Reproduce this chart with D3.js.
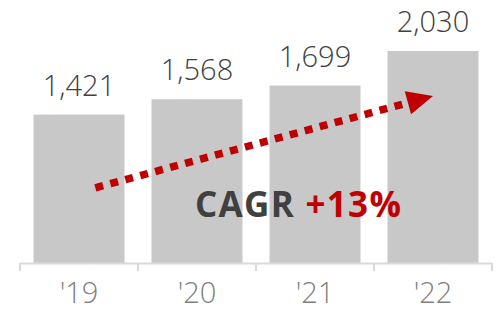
<!DOCTYPE html>
<html><head><meta charset="utf-8">
<script src="https://cdn.jsdelivr.net/npm/d3@7"></script>
<style>html,body{margin:0;padding:0;background:#fff;}svg{display:block;}</style>
</head><body>
<script>
const categories = ["'19", "'20", "'21", "'22"];
const values = [1421, 1568, 1699, 2030];
const valueLabels = ["1,421", "1,568", "1,699", "2,030"];
const cagrLabel = ["CAGR", "+13%"];
// arrow annotation anchored in data space: [category, fraction across band, value]
const arrowFrom = ["'19", 0.68, 720];
const arrowTo = ["'22", 0.5, 1600];

const W = 500, H = 311;
const svg = d3.select("body").append("svg").attr("width", W).attr("height", H);

const x = d3.scaleBand().domain(categories).range([20, 492]).paddingInner(0.229).paddingOuter(0.1145);
const y = d3.scaleLinear().domain([0, 2030]).range([263, 51]);

// bars
svg.selectAll("rect.bar").data(values).enter().append("rect")
  .attr("x", (d, i) => x(categories[i]))
  .attr("y", d => y(d))
  .attr("width", x.bandwidth())
  .attr("height", d => y(0) - y(d))
  .attr("fill", "#c8c8c8");

// axis
const step = x.step();
const bounds = categories.map(c => x(c) - step * x.paddingInner() / 2).concat([x(categories[categories.length - 1]) + x.bandwidth() + step * x.paddingInner() / 2]);
svg.append("line").attr("x1", bounds[0]).attr("x2", bounds[bounds.length - 1])
  .attr("y1", y(0) + 0.5).attr("y2", y(0) + 0.5).attr("stroke", "#d9d9d9").attr("stroke-width", 2);
svg.selectAll("line.tick").data(bounds).enter().append("line")
  .attr("x1", d => d).attr("x2", d => d).attr("y1", y(0)).attr("y2", y(0) + 8)
  .attr("stroke", "#d9d9d9").attr("stroke-width", 2);

// category labels
svg.selectAll("text.cat").data(categories).enter().append("text")
  .attr("x", d => x(d) + x.bandwidth() / 2).attr("y", 303)
  .attr("text-anchor", "middle")
  .attr("font-family", "'Open Sans', sans-serif").attr("font-weight", 300)
  .attr("font-size", 29).attr("fill", "#808080").text(d => d);

// value labels
svg.selectAll("text.val").data(values).enter().append("text")
  .attr("x", (d, i) => x(categories[i]) + x.bandwidth() / 2)
  .attr("y", d => y(d) - 19)
  .attr("text-anchor", "middle")
  .attr("font-family", "'Open Sans', sans-serif").attr("font-weight", 300)
  .attr("font-size", 29).attr("fill", "#404040").text((d, i) => valueLabels[i]);

// arrow
const sx = x(arrowFrom[0]) + x.bandwidth() * arrowFrom[1], sy = y(arrowFrom[2]);
const tx = x(arrowTo[0]) + x.bandwidth() * arrowTo[1], ty = y(arrowTo[2]);
const len = Math.hypot(tx - sx, ty - sy), ux = (tx - sx) / len, uy = (ty - sy) / len;
const headL = 26, headW = 12;
const ex = tx - ux * (headL - 2), ey = ty - uy * (headL - 2);
svg.append("line").attr("x1", sx).attr("y1", sy).attr("x2", ex).attr("y2", ey)
  .attr("stroke", "#c00000").attr("stroke-width", 7.5).attr("stroke-dasharray", "8,7.5");
const bx = tx - ux * headL, by = ty - uy * headL;
svg.append("path").attr("d", `M${tx},${ty}L${bx - uy * headW},${by + ux * headW}L${bx + uy * headW},${by - ux * headW}Z`)
  .attr("fill", "#c00000");

// CAGR text
const t = svg.append("text").attr("x", 195).attr("y", 217)
  .attr("font-family", "'Open Sans', sans-serif").attr("font-weight", 700).attr("font-size", 35)
  .attr("letter-spacing", 1.3);
t.append("tspan").attr("fill", "#404040").text(cagrLabel[0] + " ");
t.append("tspan").attr("fill", "#c00000").text(cagrLabel[1]);
</script>
</body></html>
